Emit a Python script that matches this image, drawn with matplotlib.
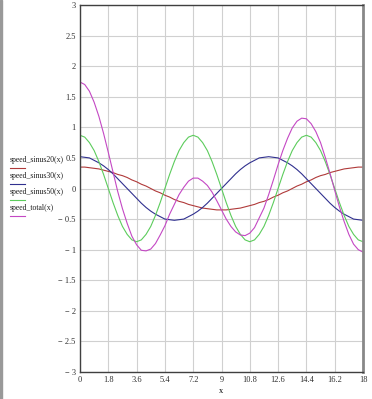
import matplotlib.pyplot as plt
import numpy as np
from matplotlib.lines import Line2D
from matplotlib.patches import Rectangle

# x sampled every 0.3 from 0 to 18
x = np.arange(61) * 0.3

speed_sinus20 = [0.35, 0.35, 0.34, 0.33, 0.32, 0.30, 0.28, 0.26, 0.23, 0.21,
                 0.18, 0.14, 0.11, 0.07, 0.04, 0.00, -0.04, -0.07, -0.11, -0.14,
                 -0.18, -0.21, -0.23, -0.26, -0.28, -0.30, -0.32, -0.33, -0.34, -0.35,
                 -0.35, -0.35, -0.34, -0.33, -0.32, -0.30, -0.28, -0.26, -0.23, -0.21,
                 -0.18, -0.14, -0.11, -0.07, -0.04, 0.00, 0.04, 0.07, 0.11, 0.14,
                 0.18, 0.21, 0.23, 0.26, 0.28, 0.30, 0.32, 0.33, 0.34, 0.35, 0.35]
speed_sinus30 = [0.52, 0.51, 0.50, 0.46, 0.42, 0.37, 0.31, 0.24, 0.16, 0.08,
                 0.00, -0.08, -0.16, -0.24, -0.31, -0.37, -0.42, -0.46, -0.50, -0.51,
                 -0.52, -0.51, -0.50, -0.46, -0.42, -0.37, -0.31, -0.24, -0.16, -0.08,
                 0.00, 0.08, 0.16, 0.24, 0.31, 0.37, 0.42, 0.46, 0.50, 0.51,
                 0.52, 0.51, 0.50, 0.46, 0.42, 0.37, 0.31, 0.24, 0.16, 0.08,
                 0.00, -0.08, -0.16, -0.24, -0.31, -0.37, -0.42, -0.46, -0.50, -0.51, -0.52]
speed_sinus50 = [0.87, 0.84, 0.75, 0.62, 0.44, 0.23, 0.00, -0.23, -0.44, -0.62,
                 -0.75, -0.84, -0.87, -0.84, -0.75, -0.62, -0.44, -0.23, 0.00, 0.23,
                 0.44, 0.62, 0.75, 0.84, 0.87, 0.84, 0.75, 0.62, 0.44, 0.23,
                 0.00, -0.23, -0.44, -0.62, -0.75, -0.84, -0.87, -0.84, -0.75, -0.62,
                 -0.44, -0.23, 0.00, 0.23, 0.44, 0.62, 0.75, 0.84, 0.87, 0.84,
                 0.75, 0.62, 0.44, 0.23, 0.00, -0.23, -0.44, -0.62, -0.75, -0.84, -0.87]
speed_total = [1.74, 1.70, 1.59, 1.41, 1.18, 0.90, 0.59, 0.27, -0.05, -0.33,
               -0.57, -0.78, -0.92, -1.01, -1.02, -0.99, -0.90, -0.76, -0.61, -0.42,
               -0.26, -0.10, 0.02, 0.12, 0.17, 0.17, 0.12, 0.05, -0.06, -0.20,
               -0.35, -0.50, -0.62, -0.71, -0.76, -0.77, -0.73, -0.64, -0.48, -0.32,
               -0.10, 0.14, 0.39, 0.62, 0.82, 0.99, 1.10, 1.15, 1.14, 1.06,
               0.93, 0.75, 0.51, 0.25, -0.03, -0.30, -0.54, -0.75, -0.91, -1.00, -1.04]

labels = ['speed_sinus20(x)', 'speed_sinus30(x)', 'speed_sinus50(x)', 'speed_total(x)']
colors = ['#b03a3a', '#30308f', '#5ccc5c', '#c448c4']

xticks = [0, 1.8, 3.6, 5.4, 7.2, 9, 10.8, 12.6, 14.4, 16.2, 18]
xticklabels = ['0', '1.8', '3.6', '5.4', '7.2', '9', '10.8', '12.6', '14.4', '16.2', '18']
yticks = [3, 2.5, 2, 1.5, 1, 0.5, 0, -0.5, -1, -1.5, -2, -2.5, -3]

plt.rcParams['font.family'] = 'Liberation Serif'
fig = plt.figure(figsize=(3.72, 3.99), dpi=100)
ax = fig.add_axes([80/372, 27/399, 283/372, 367/399])

series = [speed_sinus20, speed_sinus30, speed_sinus50, speed_total]
for s, c in zip(series, colors):
    ax.plot(x, s, color=c, lw=0.8)

ax.set_xlim(0, 18)
ax.set_ylim(-3, 3)
ax.set_xticks(xticks)
ax.set_xticklabels(xticklabels)
ax.set_yticks(yticks)
ax.set_yticklabels([('\u2212 ' + f'{abs(v):g}') if v < 0 else f'{v:g}' for v in yticks])
ax.tick_params(length=0, labelsize=6, pad=3, colors='#303030')
ax.grid(True, color='#d0d0d0', lw=0.8)
ax.set_axisbelow(True)
for side in ['left', 'bottom', 'top']:
    ax.spines[side].set_color('#404040')
    ax.spines[side].set_linewidth(1)
ax.spines['right'].set_color('#888888')
ax.spines['right'].set_linewidth(2)
ax.set_xlabel('x', fontsize=6, labelpad=2)

# legend MathCad style: name with short line under it
for i, (lab, c) in enumerate(zip(labels, colors)):
    yy = 1 - (160 + 16*i) / 399
    fig.text(10/372, yy, lab, fontsize=5.6, va='center', ha='left', color='#202020')
    fig.add_artist(Line2D([10/372, 25/372], [yy - 8/399, yy - 8/399], color=c, lw=0.8))

fig.add_artist(Rectangle((0, 0), 2/372, 1, color='#999999', transform=fig.transFigure))

plt.savefig('out.png', dpi=100)
